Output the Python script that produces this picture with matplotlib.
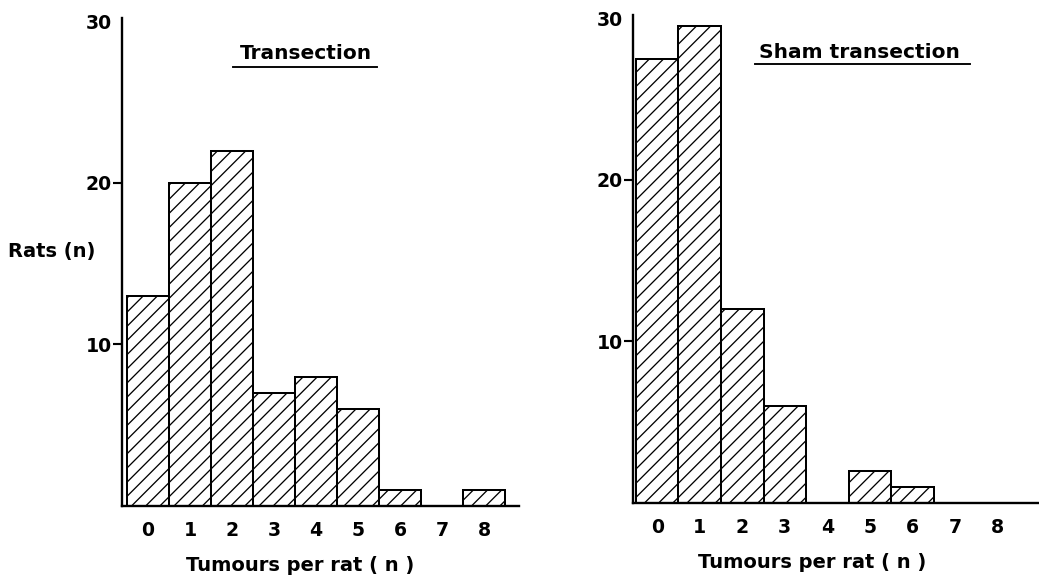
import matplotlib
matplotlib.use("Agg")
import matplotlib.pyplot as plt
from matplotlib.lines import Line2D

# ---- data ----
tumours = [0, 1, 2, 3, 4, 5, 6, 7, 8]
tick_labels = ["0", "1", "2", "3", "4", "5", "6", "7", "8"]
transection = [13, 20, 22, 7, 8, 6, 1, 0, 1]
sham = [27.5, 29.5, 12, 6, 0, 2, 1, 0, 0]
ytick_vals = [10, 20, 30]
ytick_labels = ["10", "20", "30"]
titles = ["Transection", "Sham transection"]
xlabel = "Tumours per rat ( n )"
ylabel = "Rats (n)"

DPI = 85
W, H = 1039, 583
plt.rcParams["font.family"] = ["DejaVu Sans"]
plt.rcParams["hatch.linewidth"] = 1.1
fig = plt.figure(figsize=(W / DPI, H / DPI), dpi=DPI)
fig.patch.set_facecolor("white")


def px_rect(x0, y_top, x1, y_bot):
    return [x0 / W, 1 - y_bot / H, (x1 - x0) / W, (y_bot - y_top) / H]


axL = fig.add_axes(px_rect(122, 18, 519, 506))
axR = fig.add_axes(px_rect(633, 15, 1039, 503))

specs = [
    (axL, transection, (-0.62, 8.83), 0.448, (306, 59), (233, 377, 67)),
    (axR, sham, (-0.57, 8.98), 0.44, (859, 58), (755, 970, 64)),
]

for i, (ax, vals, xl, xlab_x, tpos, uline) in enumerate(specs):
    ax.bar(tumours, vals, width=1.0, facecolor="white", edgecolor="black",
           linewidth=1.7, hatch="//", zorder=2)
    ax.set_xlim(*xl)
    ax.set_ylim(0, 30.2)
    for s in ["top", "right"]:
        ax.spines[s].set_visible(False)
    ax.spines["left"].set_linewidth(2.0)
    ax.spines["bottom"].set_linewidth(2.0)
    ax.set_xticks(tumours)
    ax.set_xticklabels(tick_labels, fontsize=16, fontweight="bold")
    ax.tick_params(axis="x", length=0, pad=13)
    ax.set_yticks(ytick_vals)
    ax.set_yticklabels(ytick_labels, fontsize=16, fontweight="bold")
    ax.tick_params(axis="y", length=7.5, width=1.8, pad=1)
    ax.yaxis.get_major_ticks()[2].tick1line.set_visible(False)
    ax.set_xlabel(xlabel, fontsize=16.5, fontweight="bold")
    ax.xaxis.set_label_coords(xlab_x, -0.121)
    ax.xaxis.label.set_va("center")
    # title with underline
    fig.text(tpos[0] / W, 1 - tpos[1] / H, titles[i], fontsize=17,
             fontweight="bold", ha="center", va="baseline")
    fig.add_artist(Line2D([uline[0] / W, uline[1] / W],
                          [1 - uline[2] / H, 1 - uline[2] / H],
                          color="black", linewidth=1.6))

fig.text(8 / W, 1 - 252 / H, ylabel, fontsize=16.5, fontweight="bold",
         ha="left", va="center")

fig.savefig("out.png", dpi=DPI, facecolor="white")
